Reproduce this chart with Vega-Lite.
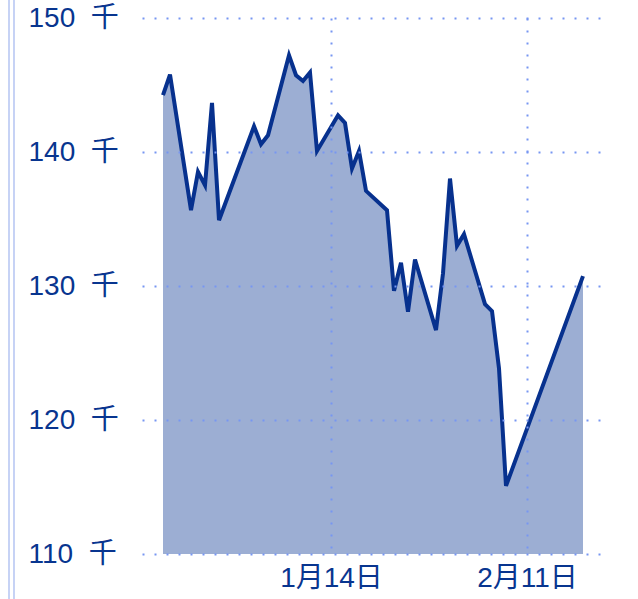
{
  "$schema": "https://vega.github.io/schema/vega-lite/v6.json",
  "width": 462,
  "height": 536,
  "autosize": {"type": "none"},
  "padding": {"left": 142, "top": 18, "right": 34, "bottom": 45},
  "background": "white",
  "config": {
    "view": {"stroke": null},
    "font": "Liberation Sans, Noto Sans CJK JP",
    "axis": {
      "labelFont": "Liberation Sans, Noto Sans CJK JP",
      "labelFontSize": 28,
      "labelColor": "#08358f"
    }
  },
  "datasets": {
    "series": [
      {"date": "2017-12-21T00:00:00", "value": 144240},
      {"date": "2017-12-22T00:00:00", "value": 145780},
      {"date": "2017-12-25T00:00:00", "value": 135660},
      {"date": "2017-12-26T00:00:00", "value": 138520},
      {"date": "2017-12-27T00:00:00", "value": 137520},
      {"date": "2017-12-28T00:00:00", "value": 143660},
      {"date": "2017-12-29T00:00:00", "value": 134910},
      {"date": "2018-01-03T00:00:00", "value": 141920},
      {"date": "2018-01-04T00:00:00", "value": 140580},
      {"date": "2018-01-05T00:00:00", "value": 141250},
      {"date": "2018-01-08T00:00:00", "value": 147220},
      {"date": "2018-01-09T00:00:00", "value": 145730},
      {"date": "2018-01-10T00:00:00", "value": 145300},
      {"date": "2018-01-11T00:00:00", "value": 145930},
      {"date": "2018-01-12T00:00:00", "value": 140080},
      {"date": "2018-01-15T00:00:00", "value": 142740},
      {"date": "2018-01-16T00:00:00", "value": 142170},
      {"date": "2018-01-17T00:00:00", "value": 138770},
      {"date": "2018-01-18T00:00:00", "value": 140080},
      {"date": "2018-01-19T00:00:00", "value": 137100},
      {"date": "2018-01-22T00:00:00", "value": 135660},
      {"date": "2018-01-23T00:00:00", "value": 129640},
      {"date": "2018-01-24T00:00:00", "value": 131730},
      {"date": "2018-01-25T00:00:00", "value": 128080},
      {"date": "2018-01-26T00:00:00", "value": 131980},
      {"date": "2018-01-29T00:00:00", "value": 126710},
      {"date": "2018-01-30T00:00:00", "value": 130940},
      {"date": "2018-01-31T00:00:00", "value": 138020},
      {"date": "2018-02-01T00:00:00", "value": 133000},
      {"date": "2018-02-02T00:00:00", "value": 133870},
      {"date": "2018-02-05T00:00:00", "value": 128650},
      {"date": "2018-02-06T00:00:00", "value": 128130},
      {"date": "2018-02-07T00:00:00", "value": 123850},
      {"date": "2018-02-08T00:00:00", "value": 115080},
      {"date": "2018-02-19T00:00:00", "value": 130740}
    ],
    "borders": [
      {"bx": "2017-11-29T00:00:00", "ylo": 106600, "yhi": 151400},
      {"bx": "2017-11-29T17:08:00", "ylo": 106600, "yhi": 151400}
    ]
  },
  "layer": [
    {
      "data": {"name": "series"},
      "mark": {"type": "area", "color": "#9caed3", "opacity": 1},
      "encoding": {
        "x": {
          "field": "date",
          "type": "temporal",
          "title": null,
          "scale": {
            "domain": [
              {"year": 2017, "month": 12, "date": 18},
              {"year": 2018, "month": 2, "date": 22}
            ]
          },
          "axis": {
            "values": [
              {"year": 2018, "month": 1, "date": 14},
              {"year": 2018, "month": 2, "date": 11}
            ],
            "labelExpr": "timeFormat(datum.value, '%-m月%-d日')",
            "domain": false,
            "ticks": false,
            "tickSize": 0,
            "labelPadding": 10,
            "grid": true,
            "gridColor": "#7796f2",
            "gridWidth": 2,
            "gridDash": [2, 10],
            "zindex": 1
          }
        },
        "y": {
          "field": "value",
          "type": "quantitative",
          "title": null,
          "scale": {"domain": [110000, 150000], "zero": false, "nice": false},
          "axis": {
            "orient": "left",
            "values": [110000, 120000, 130000, 140000, 150000],
            "labelExpr": "format(datum.value / 1000, 'd') + ' \u00a0千'",
            "labelAlign": "left",
            "labelPadding": 114,
            "domain": false,
            "ticks": false,
            "tickSize": 0,
            "grid": true,
            "gridColor": "#7796f2",
            "gridWidth": 2,
            "gridDash": [2, 10],
            "zindex": 1
          }
        },
        "y2": {"datum": 110000}
      }
    },
    {
      "data": {"name": "series"},
      "mark": {"type": "line", "color": "#07318e", "strokeWidth": 4},
      "encoding": {
        "x": {"field": "date", "type": "temporal"},
        "y": {"field": "value", "type": "quantitative"}
      }
    },
    {
      "data": {"name": "borders"},
      "mark": {"type": "rule", "color": "#b4c4f2", "strokeWidth": 1.5, "clip": false},
      "encoding": {
        "x": {"field": "bx", "type": "temporal"},
        "y": {"field": "ylo", "type": "quantitative"},
        "y2": {"field": "yhi"}
      }
    }
  ]
}
